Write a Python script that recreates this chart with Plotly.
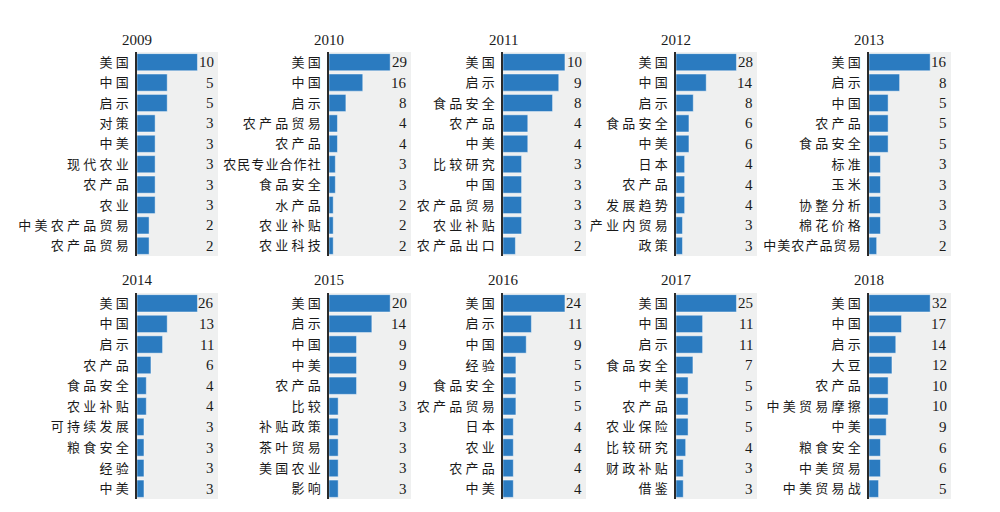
import plotly.graph_objects as go

years = ["2009", "2010", "2011", "2012", "2013", "2014", "2015", "2016", "2017", "2018"]

labels_2009 = ["美国", "中国", "启示", "对策", "中美", "现代农业", "农产品", "农业", "中美农产品贸易", "农产品贸易"]
values_2009 = [10, 5, 5, 3, 3, 3, 3, 3, 2, 2]
labels_2010 = ["美国", "中国", "启示", "农产品贸易", "农产品", "农民专业合作社", "食品安全", "水产品", "农业补贴", "农业科技"]
values_2010 = [29, 16, 8, 4, 4, 3, 3, 2, 2, 2]
labels_2011 = ["美国", "启示", "食品安全", "农产品", "中美", "比较研究", "中国", "农产品贸易", "农业补贴", "农产品出口"]
values_2011 = [10, 9, 8, 4, 4, 3, 3, 3, 3, 2]
labels_2012 = ["美国", "中国", "启示", "食品安全", "中美", "日本", "农产品", "发展趋势", "产业内贸易", "政策"]
values_2012 = [28, 14, 8, 6, 6, 4, 4, 4, 3, 3]
labels_2013 = ["美国", "启示", "中国", "农产品", "食品安全", "标准", "玉米", "协整分析", "棉花价格", "中美农产品贸易"]
values_2013 = [16, 8, 5, 5, 5, 3, 3, 3, 3, 2]
labels_2014 = ["美国", "中国", "启示", "农产品", "食品安全", "农业补贴", "可持续发展", "粮食安全", "经验", "中美"]
values_2014 = [26, 13, 11, 6, 4, 4, 3, 3, 3, 3]
labels_2015 = ["美国", "启示", "中国", "中美", "农产品", "比较", "补贴政策", "茶叶贸易", "美国农业", "影响"]
values_2015 = [20, 14, 9, 9, 9, 3, 3, 3, 3, 3]
labels_2016 = ["美国", "启示", "中国", "经验", "食品安全", "农产品贸易", "日本", "农业", "农产品", "中美"]
values_2016 = [24, 11, 9, 5, 5, 5, 4, 4, 4, 4]
labels_2017 = ["美国", "中国", "启示", "食品安全", "中美", "农产品", "农业保险", "比较研究", "财政补贴", "借鉴"]
values_2017 = [25, 11, 11, 7, 5, 5, 5, 4, 3, 3]
labels_2018 = ["美国", "中国", "启示", "大豆", "农产品", "中美贸易摩擦", "中美", "粮食安全", "中美贸易", "中美贸易战"]
values_2018 = [32, 17, 14, 12, 10, 10, 9, 6, 6, 5]

all_labels = [labels_2009, labels_2010, labels_2011, labels_2012, labels_2013,
              labels_2014, labels_2015, labels_2016, labels_2017, labels_2018]
all_values = [values_2009, values_2010, values_2011, values_2012, values_2013,
              values_2014, values_2015, values_2016, values_2017, values_2018]

# page body has an 8px margin; map reference pixels into the figure
OFF = 8
W, H = 1000 - OFF, 512 - OFF
def px_x(p):
    return (p - OFF) / W
def px_y(p):
    return 1 - (p - OFF) / H

# panel pixel boxes (left, right) per column, (top, bottom) per row
col_x_px = [(137, 218), (329, 411), (503, 586), (676, 757), (869, 951)]
row_y_px = [(52, 256), (293, 499)]
title_y_px = [40, 280]

BAR = "#2b7bc0"
BG = "#eff0f0"
SERIF = "Liberation Serif, Noto Sans CJK SC, serif"
TXT = "#1a1a1a"

def spaced(s, tight):
    sep = "\u200a" if tight else "\u2005"
    return sep.join(list(s))

fig = go.Figure()
layout = {}
annotations = []
for i, (yr, labs, vals) in enumerate(zip(years, all_labels, all_values)):
    n = i + 1
    xa = "x" if n == 1 else f"x{n}"
    ya = "y" if n == 1 else f"y{n}"
    row, col = divmod(i, 5)
    l, r = col_x_px[col]
    t, b = row_y_px[row]
    xmax = max(vals) * 1.34
    fig.add_trace(go.Bar(
        x=vals, y=labs, orientation="h", xaxis=xa, yaxis=ya,
        marker=dict(color=BAR, line=dict(color="rgba(255,255,255,0.55)", width=0.8)),
        width=0.84, showlegend=False, hoverinfo="x+y"))
    layout["xaxis" if n == 1 else f"xaxis{n}"] = dict(
        domain=[px_x(l), px_x(r)], range=[0, xmax], anchor=ya, automargin=False,
        showgrid=False, zeroline=False, showticklabels=False, ticks="", showline=False,
        fixedrange=True)
    layout["yaxis" if n == 1 else f"yaxis{n}"] = dict(
        domain=[px_y(b), px_y(t)], anchor=xa, type="category", automargin=False,
        range=[len(labs) - 0.5, -0.5], tickmode="array", tickvals=labs,
        ticktext=[spaced(s, col > 0 and len(s) >= 7) for s in labs],
        showgrid=False, zeroline=False, ticks="", ticklabelstandoff=4,
        showline=True, linecolor="#2a2a2a", linewidth=1.5,
        tickfont=dict(family=SERIF, size=13, color=TXT), fixedrange=True)
    for lab, v in zip(labs, vals):
        annotations.append(dict(
            x=xmax, y=lab, xref=xa, yref=ya, text=str(v), showarrow=False,
            xanchor="right", yanchor="middle", xshift=-2,
            font=dict(family=SERIF, size=15, color=TXT)))
    annotations.append(dict(
        x=px_x(l), y=px_y(title_y_px[row]), xref="paper", yref="paper", text=yr,
        showarrow=False, xanchor="center", yanchor="middle",
        font=dict(family=SERIF, size=15, color=TXT)))

fig.update_layout(**layout)
fig.update_layout(
    width=W, height=H, margin=dict(l=0, r=0, t=0, b=0, autoexpand=False),
    paper_bgcolor="white", plot_bgcolor=BG, bargap=0.16,
    annotations=annotations, font=dict(family=SERIF, color=TXT))

fig.write_html("out.html")
